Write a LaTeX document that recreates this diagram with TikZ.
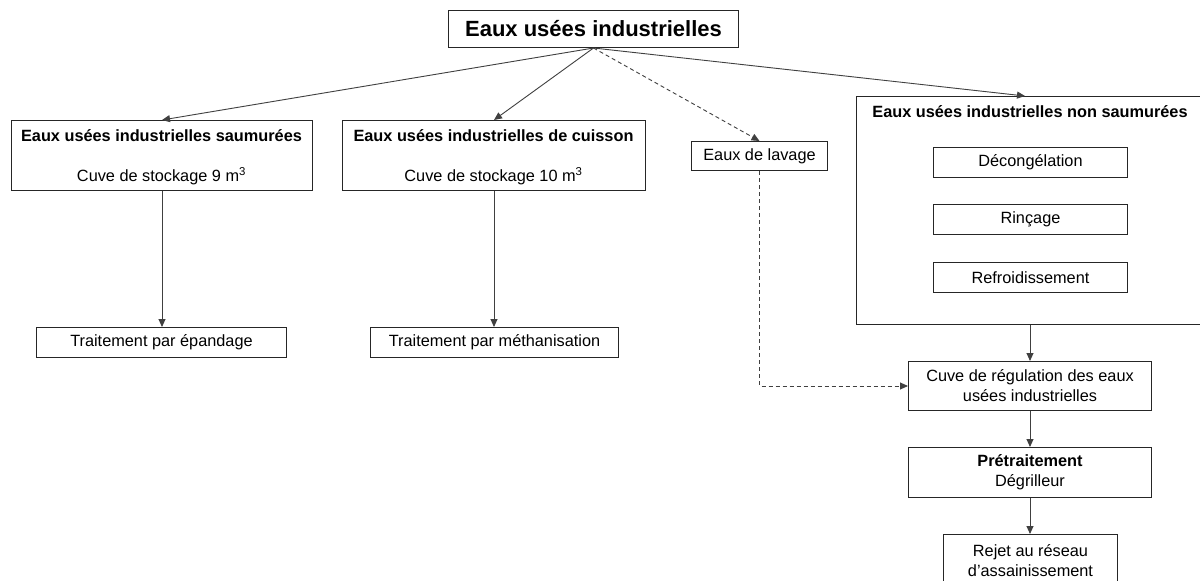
\documentclass[tikz,border=0pt]{standalone}
\usepackage{fontspec}
\setmainfont{Liberation Sans}
\usetikzlibrary{arrows.meta,calc}
\begin{document}
\begin{tikzpicture}[x=1pt,y=-1pt,
  box/.style={draw=black!85,line width=1pt,inner sep=0pt,anchor=north west,
    font=\fontsize{16.3}{20}\selectfont,align=center},
  txt/.style={inner sep=0pt,font=\fontsize{16.3}{20}\selectfont,align=center},
  btxt/.style={inner sep=0pt,font=\fontsize{16.3}{20}\selectfont\bfseries,align=center},
  arr/.style={draw=black!75,line width=0.9pt,-{Triangle[length=8pt,width=7pt]}},
  darr/.style={arr,dash pattern=on 4pt off 3pt}]
\fill[white] (0,0) rectangle (1200,581);
\path[use as bounding box] (0,0) rectangle (1200,581);
\clip (0,0) rectangle (1200,581);

% top
\node[box,minimum width=290pt,minimum height=37pt,font=\fontsize{22}{26}\selectfont\bfseries] (top) at (448,10) {Eaux usées industrielles};

% saumurées
\node[box,minimum width=301pt,minimum height=70pt] (saum) at (11,120) {};
\node[btxt] (saumt) at (161.5,136) {Eaux usées industrielles saumurées};
\node[txt] (saums) at (161.5,176) {Cuve de stockage 9 m\textsuperscript{3}};

% cuisson
\node[box,minimum width=303pt,minimum height=70pt] (cuis) at (342,120) {};
\node[btxt] (cuist) at (493.5,136) {Eaux usées industrielles de cuisson};
\node[txt] (cuiss) at (493.5,176) {Cuve de stockage 10 m\textsuperscript{3}};

% lavage
\node[box,minimum width=136pt,minimum height=29pt] (lav) at (691,141) {Eaux de lavage};

% non saumurées
\node[box,minimum width=348pt,minimum height=228pt] (ns) at (856,96) {};
\node[btxt] (nst) at (1030,112) {Eaux usées industrielles non saumurées};
\node[box,minimum width=194pt,minimum height=30pt] (dec) at (933,147) {Décongélation};
\node[box,minimum width=194pt,minimum height=30pt] (rin) at (933,204) {Rinçage};
\node[box,minimum width=194pt,minimum height=30pt] (ref) at (933,262) {Refroidissement};

% traitements
\node[box,minimum width=250pt,minimum height=30pt] (epa) at (36,327) {Traitement par épandage};
\node[box,minimum width=248pt,minimum height=30pt] (met) at (370,327) {Traitement par méthanisation};

% right column
\node[box,minimum width=243pt,minimum height=49pt] (reg) at (908,361) {Cuve de régulation des eaux\\usées industrielles};
\node[box,minimum width=243pt,minimum height=50pt] (pre) at (908,447) {\textbf{Prétraitement}\\Dégrilleur};
\node[box,minimum width=174pt,minimum height=52pt] (rej) at (943,534) {Rejet au réseau\\d’assainissement};

% connectors
\draw[arr] (top.south) -- (saum.north);
\draw[arr] (top.south) -- (cuis.north);
\draw[darr] (top.south) -- (lav.north);
\draw[arr] (top.south) -- ($(ns.north west)+(169,0)$);
\draw[arr] (saum.south) -- (saum.south |- epa.north);
\draw[arr] (cuis.south) -- (cuis.south |- met.north);
\draw[darr] (lav.south) |- (reg.west);
\draw[arr] (ns.south -| reg.north) -- (reg.north);
\draw[arr] (reg.south) -- (pre.north);
\draw[arr] (pre.south) -- (pre.south |- rej.north);
\end{tikzpicture}
\end{document}
